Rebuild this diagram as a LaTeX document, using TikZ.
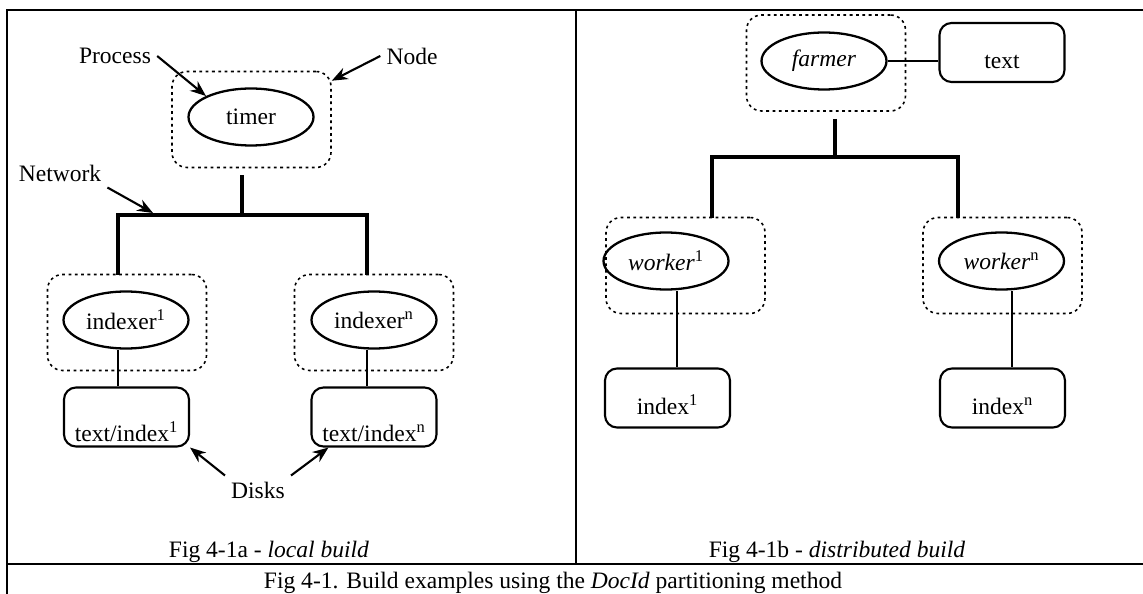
\documentclass[tikz,border=0pt]{standalone}
\usepackage{fontspec}
\setmainfont{Liberation Serif}
\usetikzlibrary{arrows.meta,shapes.geometric}

\begin{document}
\begin{tikzpicture}[x=0.02cm,y=-0.02cm,
  font=\fontsize{13.4pt}{16pt}\selectfont,
  proc/.style={draw,ellipse,line width=1.3pt,minimum width=2.5cm,minimum height=1.14cm,inner sep=0pt},
  disk/.style={draw,rectangle,rounded corners=0.24cm,line width=1.2pt,minimum width=2.5cm,minimum height=1.18cm,inner sep=0pt},
  host/.style={draw,rectangle,rounded corners=0.3cm,line width=0.9pt,dash pattern=on 1.6pt off 2pt,minimum width=3.18cm,minimum height=1.92cm,inner sep=0pt},
  net/.style={line width=2.4pt},
  link/.style={line width=1pt},
  ptr/.style={-{Stealth[length=9pt,width=7pt]},line width=1.2pt}]

  \useasboundingbox (0,0) rectangle (1143,594);

  % frame
  \draw[line width=0.7pt] (7,594) -- (7,10) -- (1143,10);
  \draw[line width=0.7pt] (7,564) -- (1143,564);
  \draw[line width=0.7pt] (576,10) -- (576,564);

  % local build
  \node[host] (hostt) at (251.5,119.5) {};
  \node[proc] (timer) at (251,117) {timer};
  \node[host] (hostl1) at (127,322.5) {};
  \node[host] (hostln) at (374,322.5) {};
  \node[proc] (idx1) at (126,320) {indexer\textsuperscript{1}};
  \node[proc] (idxn) at (374,320) {indexer\textsuperscript{n}};
  \node[disk,label={[anchor=base,yshift=0.12cm]south:text/index\textsuperscript{1}}] (disk1) at (126.5,417) {};
  \node[disk,label={[anchor=base,yshift=0.12cm]south:text/index\textsuperscript{n}}] (diskn) at (374,417) {};

  \coordinate (lbus) at (242,215);
  \coordinate (ldrop1) at (118,275);
  \coordinate (ldropn) at (367,275);
  \coordinate (netpt) at (153,213);
  \draw[net] (hostt.south -| lbus) ++(0,7) -- (lbus);
  \draw[net] (ldrop1) |- (lbus) -| (ldropn);
  \draw[link] ([xshift=-0.16cm]idx1.south) -- ([xshift=-0.16cm]idx1.south |- disk1.north);
  \draw[link] ([xshift=-0.14cm]idxn.south) -- ([xshift=-0.14cm]idxn.south |- diskn.north);

  \node (process) at (115,56) {Process};
  \node (nodelbl) at (412,56) {Node};
  \node (network) at (60,173) {Network};
  \node (disks) at (258,490) {Disks};
  \draw[ptr] (process.east) -- (timer.north west);
  \draw[ptr] (nodelbl.west) -- ([yshift=-0.2cm]hostt.north east);
  \draw[ptr] (network.south east) -- (netpt);
  \draw[ptr] (disks.north west) -- (disk1.south east);
  \draw[ptr] (disks.north east) -- ([xshift=0.36cm]diskn.south west);

  \node[anchor=base] (capa) at (269,557) {Fig 4-1a - \textit{local build}};

  % distributed build
  \node[host] (hostf) at (826,63) {};
  \node[proc] (farmer) at (824,61) {\textit{farmer}};
  \node[disk,label={[anchor=base,yshift=0.3cm]south:text}] (txt) at (1002,52.5) {};
  \draw[link] (farmer.east) -- (farmer.east -| txt.west);

  \node[host] (hostw1) at (685.5,265.5) {};
  \node[host] (hostwn) at (1002.5,265.5) {};
  \node[proc] (worker1) at (666,261) {\textit{worker}\textsuperscript{1}};
  \node[proc] (workern) at (1001.5,261) {\textit{worker}\textsuperscript{n}};
  \node[disk,label={[anchor=base,yshift=0.28cm]south:index\textsuperscript{1}}] (index1) at (667.5,398) {};
  \node[disk,label={[anchor=base,yshift=0.28cm]south:index\textsuperscript{n}}] (indexn) at (1002.5,398) {};

  \coordinate (rbus) at (835,157);
  \coordinate (rdrop1) at (712,218);
  \coordinate (rdropn) at (958,218);
  \draw[net] (hostf.south -| rbus) ++(0,7) -- (rbus);
  \draw[net] (rdrop1) |- (rbus) -| (rdropn);
  \draw[link] ([xshift=0.22cm]worker1.south) -- ([xshift=0.22cm]worker1.south |- index1.north);
  \draw[link] ([xshift=0.21cm]workern.south) -- ([xshift=0.21cm]workern.south |- indexn.north);

  \node[anchor=base] (capb) at (837,557) {Fig 4-1b - \textit{distributed build}};

  \node[anchor=base] (capt) at (553,588) {Fig 4-1. Build examples using the \textit{DocId} partitioning method};
\end{tikzpicture}
\end{document}
